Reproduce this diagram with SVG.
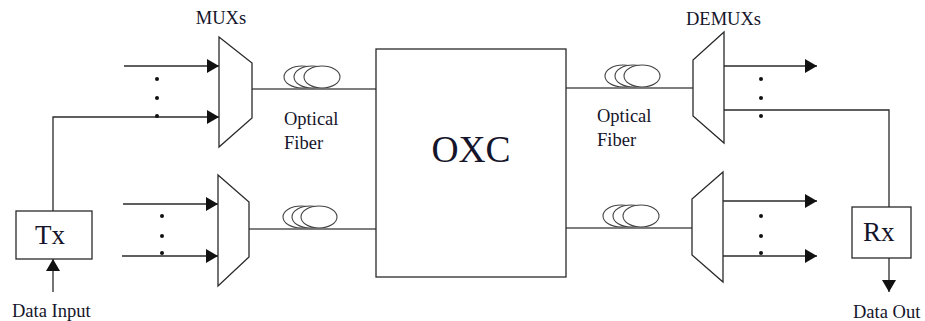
<svg xmlns="http://www.w3.org/2000/svg" width="925" height="321" viewBox="0 0 925 321">
<defs>
<style>
.ln{fill:none;stroke:#2a2a2a;stroke-width:1.3}
.fb{fill:none;stroke:#555;stroke-width:1.3}
.sh{fill:#fff;stroke:#2a2a2a;stroke-width:1.3}
.coil{fill:#fff;stroke:#444;stroke-width:1.1}
.dot{fill:#111}
.t{font-family:"Liberation Serif","Times New Roman",serif;fill:#14142a}
.lbl{font-size:18.5px}
.arr{marker-end:url(#ah)}
</style>
<marker id="ah" markerUnits="userSpaceOnUse" markerWidth="13" markerHeight="14" refX="12" refY="7" orient="auto">
<path d="M0,0 L12,7 L0,14 Z" fill="#111"/>
</marker>
</defs>
<rect width="925" height="321" fill="#fff"/>

<g id="fiber-top-left">
<ellipse class="coil" cx="302" cy="77" rx="18" ry="11"/><ellipse class="coil" cx="312" cy="77" rx="18" ry="11"/><ellipse class="coil" cx="322" cy="77" rx="18" ry="11"/>
</g>
<g id="fiber-bottom-left">
<ellipse class="coil" cx="301" cy="217" rx="18" ry="11"/><ellipse class="coil" cx="310" cy="217" rx="18" ry="11"/><ellipse class="coil" cx="319" cy="217" rx="18" ry="11"/>
</g>
<g id="fiber-top-right">
<ellipse class="coil" cx="623" cy="76" rx="18" ry="11"/><ellipse class="coil" cx="633" cy="76" rx="18" ry="11"/><ellipse class="coil" cx="642" cy="76" rx="18" ry="11"/>
</g>
<g id="fiber-bottom-right">
<ellipse class="coil" cx="621" cy="216" rx="18" ry="11"/><ellipse class="coil" cx="631" cy="216" rx="18" ry="11"/><ellipse class="coil" cx="641" cy="216" rx="18" ry="11"/>
</g>

<g id="connectors">
<line class="ln arr" x1="124" y1="66" x2="219" y2="66"/>
<polyline class="ln arr" points="53,211 53,117 219,117"/>
<line class="ln arr" x1="123" y1="204" x2="218" y2="204"/>
<line class="ln arr" x1="122" y1="256" x2="218" y2="256"/>
<line class="ln arr" x1="53" y1="292" x2="53" y2="259"/>
<line class="fb" x1="252" y1="89" x2="376" y2="89"/>
<line class="fb" x1="249" y1="229" x2="376" y2="229"/>
<line class="fb" x1="566" y1="88" x2="693" y2="88"/>
<line class="fb" x1="566" y1="228" x2="692" y2="228"/>
<line class="ln arr" x1="724" y1="66" x2="817" y2="66"/>
<polyline class="ln" points="724,110 889,110 889,207"/>
<line class="ln arr" x1="723" y1="201" x2="817" y2="201"/>
<line class="ln arr" x1="723" y1="256" x2="817" y2="256"/>
<line class="ln arr" x1="889" y1="258" x2="889" y2="292"/>
</g>

<g id="dots">
<circle class="dot" cx="157" cy="79" r="2"/><circle class="dot" cx="157" cy="98" r="2"/><circle class="dot" cx="157" cy="116" r="2"/>
<circle class="dot" cx="162" cy="216" r="2"/><circle class="dot" cx="162" cy="236" r="2"/><circle class="dot" cx="162" cy="253" r="2"/>
<circle class="dot" cx="761" cy="79" r="2"/><circle class="dot" cx="761" cy="98" r="2"/><circle class="dot" cx="761" cy="116" r="2"/>
<circle class="dot" cx="761" cy="216" r="2"/><circle class="dot" cx="761" cy="236" r="2"/><circle class="dot" cx="761" cy="253" r="2"/>
</g>

<g id="mux-top"><polygon class="sh" points="219,37 252,63 252,118 219,147"/></g>
<g id="mux-bottom"><polygon class="sh" points="218,175 249,202 249,257 218,286"/></g>
<g id="demux-top"><polygon class="sh" points="724,32 693,60 693,116 724,143"/></g>
<g id="demux-bottom"><polygon class="sh" points="723,172 692,199 692,255 723,282"/></g>

<g id="oxc">
<rect class="sh" x="376" y="49" width="190" height="228"/>
<text class="t" x="471" y="162" font-size="37.5" text-anchor="middle">OXC</text>
</g>
<g id="tx">
<rect class="sh" x="16" y="211" width="76" height="48"/>
<text class="t" x="35" y="244" font-size="27">Tx</text>
</g>
<g id="rx">
<rect class="sh" x="852" y="207" width="59" height="51"/>
<text class="t" x="863" y="241" font-size="27">Rx</text>
</g>

<g id="labels">
<text class="t lbl" x="221" y="24" text-anchor="middle">MUXs</text>
<text class="t lbl" x="723.5" y="25" text-anchor="middle">DEMUXs</text>
<text class="t lbl" x="284" y="125">Optical</text>
<text class="t lbl" x="284" y="149">Fiber</text>
<text class="t lbl" x="597" y="122">Optical</text>
<text class="t lbl" x="597" y="146">Fiber</text>
<text class="t lbl" x="12" y="317">Data Input</text>
<text class="t lbl" x="853" y="318">Data Out</text>
</g>
</svg>
